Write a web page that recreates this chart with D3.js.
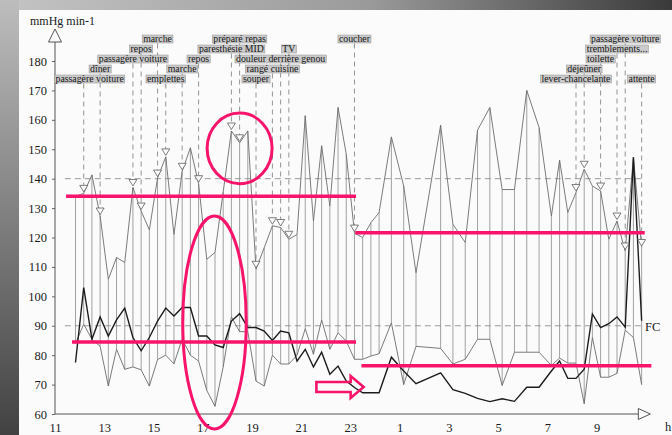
<!DOCTYPE html>
<html>
<head>
<meta charset="utf-8">
<script src="https://cdn.jsdelivr.net/npm/d3@7/dist/d3.min.js"></script>
<style>
  html, body { margin: 0; padding: 0; background: #fff; }
  svg { display: block; }
  svg text { font-family: "Liberation Serif", "Times New Roman", serif; }
</style>
</head>
<body>
<svg id="chart" width="672" height="435"></svg>
<script>
// 24-hour ambulatory recording: one reading every 20-30 minutes
const times = [
  "11:50","12:10","12:30","12:50","13:10","13:30","13:50","14:10","14:30","14:50",
  "15:10","15:30","15:50","16:10","16:30","16:50","17:10","17:30","17:50","18:10",
  "18:30","18:50","19:10","19:30","19:50","20:10","20:30","20:50","21:10","21:30",
  "21:50","22:10","22:30","22:50","23:10","23:30","23:50","00:10","00:40","01:10",
  "01:40","02:40","03:10","03:40","04:10","04:40","05:10","05:40","06:10","06:40",
  "07:10","07:30","07:50","08:10","08:30","08:50","09:10","09:30","09:50","10:10",
  "10:30","10:50"
];
const systolic = [
  134, 135, 141.3, 127.3, 105.8, 113.2, 111.5, 137, 129, 122.6,
  140.2, 147.4, 121, 142.5, 150.5, 138.3, 112.6, 114.9, 135.5, 156.2,
  152.2, 156.2, 109.2, 116.5, 124, 123.4, 119.4, 121, 161.4, 125.6,
  151.2, 130.7, 164.2, 148.3, 121.5, 120, 125, 128.5, 154.2, 137.5,
  108, 158.2, 124.5, 118.3, 156.5, 164.2, 136.3, 136.3, 170, 157.4,
  127.3, 146.3, 128.5, 135.3, 143.2, 137.5, 135.8, 119.4, 125.6, 115.4,
  147.3, 116.6
];
const diastolic = [
  84, 90.5, 85.4, 83, 69.5, 82, 75.2, 76, 75, 69.5,
  78.5, 80, 77, 85.5, 80, 78, 68, 62.6, 76, 93,
  88, 88, 71.2, 69.5, 80, 77, 77, 80, 89, 80.3,
  92, 82, 87.6, 84.8, 78.6, 78.6, 79.7, 80.5, 91, 70,
  83, 82.3, 77, 78.6, 85.4, 85.4, 69.7, 81, 81, 81,
  76.5, 79, 77.3, 77.3, 63.5, 86, 72.5, 72.5, 73.8, 88.5,
  86, 70
];
const heartRate = [
  77.5, 103, 85.4, 93, 86.5, 92, 96, 86, 81.5, 86,
  91.6, 96, 93.3, 96.2, 96.2, 86.5, 86.5, 83.5, 82.6, 91.6,
  94.1, 89.4, 89.4, 88.2, 85, 88.2, 87.6, 78, 82, 76,
  81, 73.5, 76.3, 71.2, 69, 67.2, 67.2, 67.2, 79.3, 74.6,
  70.3, 74, 68.3, 67, 65.3, 64.2, 65.2, 64.3, 69.1, 69.1,
  74.6, 78, 72.1, 72.1, 75.2, 94, 89.4, 90.7, 93, 89.5,
  147.3, 91.7
];

// Diary entries: time, text, stacking row (1 = top)
const eventTimes = [
  "12:10","12:50","14:10","14:30","15:10","15:30","16:10","16:50","18:10","18:30",
  "19:10","19:50","20:10","20:30","23:10","08:10","08:30","09:10","09:50","10:10","10:50"
];
const eventLabels = [
  "passagère voiture","dîner","passagère voiture","repos","marche","emplettes","marche","repos",
  "paresthésie MID","préparé repas","souper","rangé cuisine","douleur derrière genou","TV","coucher",
  "lever-chancelante","déjeûner","toilette","tremblements...","passagère voiture","attente"
];
const eventRows = [5,4,3,2,1,5,4,3,2,1,5,4,3,2,1,5,4,3,2,1,5];

// Axis ticks
const hourTicks = [11,13,15,17,19,21,23,25,27,29,31,33];
const hourTickLabels = ["11","13","15","17","19","21","23","1","3","5","7","9"];
const pressureTicks = [60,70,80,90,100,110,120,130,140,150,160,170,180];
const thresholdValues = [140, 90];

// Hand-drawn highlights: mean levels (hours, value), circled zones, arrow
const levelStart = [11.45, 11.69, 23.2, 23.45];
const levelEnd = [23.23, 23.23, 34.96, 35.23];
const levelValue = [134, 84.5, 121.6, 76.4];
const ringHour = [18.5, 17.48];
const ringValue = [150.3, 91.1];
const ringHalfHours = [1.32, 1.29];
const ringHalfValue = [12, 36.2];
const arrowFromHour = 21.62, arrowToHour = 23.54, arrowValue = 69.2;

const toHours = s => {
  const [h, m] = s.split(":").map(Number);
  let v = h + m / 60;
  return v < 11 ? v + 24 : v;
};
const readings = times.map((t, i) => ({
  h: toHours(t), sys: systolic[i], dia: diastolic[i], hr: heartRate[i]
}));
const byHour = new Map(readings.map(r => [r.h, r]));

const svg = d3.select("#chart");
const x = d3.scaleLinear().domain([11, 33]).range([55, 596.5]);
const y = d3.scaleLinear().domain([60, 180]).range([414, 61]);

const SERIF = "'Liberation Serif', 'Times New Roman', serif";
const PINK = "#f7146a";

// Frame and paper
const defs = svg.append("defs");
const gTop = defs.append("linearGradient").attr("id", "frameTop")
  .attr("x1", 0).attr("x2", 1).attr("y1", 0).attr("y2", 0);
gTop.append("stop").attr("offset", 0).attr("stop-color", "#c4c4c4");
gTop.append("stop").attr("offset", 0.55).attr("stop-color", "#9a9a9a");
gTop.append("stop").attr("offset", 1).attr("stop-color", "#3a3a3a");
const gLeft = defs.append("linearGradient").attr("id", "frameLeft")
  .attr("x1", 0).attr("x2", 0).attr("y1", 0).attr("y2", 1);
gLeft.append("stop").attr("offset", 0).attr("stop-color", "#bdbdbd");
gLeft.append("stop").attr("offset", 1).attr("stop-color", "#424242");

svg.append("rect").attr("width", 672).attr("height", 435).attr("fill", "url(#frameTop)");
svg.append("rect").attr("width", 19).attr("height", 435).attr("fill", "url(#frameLeft)");
svg.append("rect").attr("x", 19).attr("y", 10).attr("width", 653).attr("height", 425).attr("fill", "#fbfbfb");

// Threshold dashed lines
svg.append("g").selectAll("line").data(thresholdValues).join("line")
  .attr("x1", x(11.4)).attr("x2", x(34.9))
  .attr("y1", d => y(d)).attr("y2", d => y(d))
  .attr("stroke", "#8e8e8e").attr("stroke-width", 0.9).attr("stroke-dasharray", "6,4");

// Axes
const yAxis = svg.append("g").attr("transform", `translate(${x(11)},0)`)
  .call(d3.axisLeft(y).tickValues(pressureTicks).tickSize(3).tickPadding(5));
yAxis.attr("font-family", SERIF);
yAxis.select(".domain").remove();
yAxis.selectAll("line").attr("stroke", "#666");
yAxis.selectAll("text").attr("font-size", 12.5).attr("fill", "#1a1a1a");

const xAxis = svg.append("g").attr("transform", `translate(0,${y(60)})`)
  .call(d3.axisBottom(x).tickValues(hourTicks).tickFormat((d, i) => hourTickLabels[i]).tickSize(0).tickPadding(9));
xAxis.attr("font-family", SERIF);
xAxis.select(".domain").remove();
xAxis.selectAll("text").attr("font-size", 12.5).attr("fill", "#1a1a1a");

const axisCol = "#555";
const x0 = x(11), yBase = y(60);
svg.append("line").attr("x1", x0).attr("x2", x0).attr("y1", yBase).attr("y2", 42)
  .attr("stroke", axisCol).attr("stroke-width", 1);
svg.append("path").attr("d", `M${x0 - 6.5},42 L${x0},29 L${x0 + 6.5},42 Z`)
  .attr("fill", "#fbfbfb").attr("stroke", axisCol).attr("stroke-width", 1);
const xEnd = x(34.7);
svg.append("line").attr("x1", x0).attr("x2", xEnd).attr("y1", yBase).attr("y2", yBase)
  .attr("stroke", axisCol).attr("stroke-width", 1);
svg.append("path").attr("d", `M${xEnd},${yBase - 5.5} L${xEnd + 12},${yBase} L${xEnd},${yBase + 5.5} Z`)
  .attr("fill", "#fbfbfb").attr("stroke", axisCol).attr("stroke-width", 1);

svg.append("text").attr("x", 30).attr("y", 25).text("mmHg min-1")
  .attr("font-size", 12).attr("fill", "#1a1a1a");
svg.append("text").attr("x", 668).attr("y", 431).text("h").attr("text-anchor", "middle")
  .attr("font-size", 12.5).attr("fill", "#1a1a1a");

// Systolic-diastolic span of each reading
svg.append("g").selectAll("line").data(readings).join("line")
  .attr("x1", d => x(d.h)).attr("x2", d => x(d.h))
  .attr("y1", d => y(d.sys)).attr("y2", d => y(d.dia))
  .attr("stroke", "#8a8a8a").attr("stroke-width", 0.8);

const lineOf = key => d3.line().x(d => x(d.h)).y(d => y(d[key]));
svg.append("path").datum(readings).attr("d", lineOf("sys"))
  .attr("fill", "none").attr("stroke", "#6c6c6c").attr("stroke-width", 0.9);
svg.append("path").datum(readings).attr("d", lineOf("dia"))
  .attr("fill", "none").attr("stroke", "#6c6c6c").attr("stroke-width", 0.9);
svg.append("path").datum(readings).attr("d", lineOf("hr"))
  .attr("fill", "none").attr("stroke", "#1c1c1c").attr("stroke-width", 1.4);

svg.append("text").attr("x", 645).attr("y", 330.5).text("FC")
  .attr("font-size", 12.5).attr("fill", "#1a1a1a");

// Diary events: dashed leader, open marker on the systolic trace, boxed label
const rowCenter = r => 29 + r * 10;
const events = eventTimes.map((t, i) => {
  const h = toHours(t);
  return { h, label: eventLabels[i], row: eventRows[i], sys: byHour.get(h).sys };
});
const gEv = svg.append("g");
events.forEach(e => {
  const ex = x(e.h), tip = y(e.sys) - 1.5, top = tip - 6.5;
  gEv.append("line").attr("x1", ex).attr("x2", ex)
    .attr("y1", rowCenter(e.row) + 4.5).attr("y2", top)
    .attr("stroke", "#7a7a7a").attr("stroke-width", 0.8).attr("stroke-dasharray", "5,4");
  gEv.append("path").attr("d", `M${ex - 4},${top} L${ex + 4},${top} L${ex},${tip} Z`)
    .attr("fill", "#fbfbfb").attr("stroke", "#5e5e5e").attr("stroke-width", 0.8);
});
const gLab = svg.append("g");
events.forEach(e => {
  const g = gLab.append("g");
  const rect = g.append("rect");
  const txt = g.append("text").text(e.label)
    .attr("font-size", 9.8).attr("fill", "#151515")
    .attr("y", rowCenter(e.row) + 3.2);
  const w = txt.node().getComputedTextLength();
  let left = x(e.h) - w / 2;
  if (left < x0) left = x0 + 0.5;
  txt.attr("x", left);
  rect.attr("x", left - 1).attr("y", rowCenter(e.row) - 4)
    .attr("width", w + 2).attr("height", 8)
    .attr("fill", "#cbcbcb").attr("stroke", "#8e8e8e").attr("stroke-width", 0.5);
});

// Highlights
const gHi = svg.append("g");
levelValue.forEach((v, i) => {
  gHi.append("line").attr("x1", x(levelStart[i])).attr("x2", x(levelEnd[i]))
    .attr("y1", y(v)).attr("y2", y(v))
    .attr("stroke", PINK).attr("stroke-width", 3.6);
});
ringHour.forEach((h, i) => {
  gHi.append("ellipse").attr("cx", x(h)).attr("cy", y(ringValue[i]))
    .attr("rx", x(h + ringHalfHours[i]) - x(h))
    .attr("ry", y(ringValue[i] - ringHalfValue[i]) - y(ringValue[i]))
    .attr("fill", "none").attr("stroke", PINK).attr("stroke-width", 3);
});
const ax0 = x(arrowFromHour), ax1 = x(arrowToHour), ay = y(arrowValue), neck = ax1 - 13;
gHi.append("path")
  .attr("d", `M${ax0},${ay - 5} L${neck},${ay - 5} L${neck},${ay - 11} L${ax1},${ay} ` +
             `L${neck},${ay + 11} L${neck},${ay + 5} L${ax0},${ay + 5} Z`)
  .attr("fill", "none").attr("stroke", PINK).attr("stroke-width", 2.6).attr("stroke-linejoin", "miter");
</script>
</body>
</html>
